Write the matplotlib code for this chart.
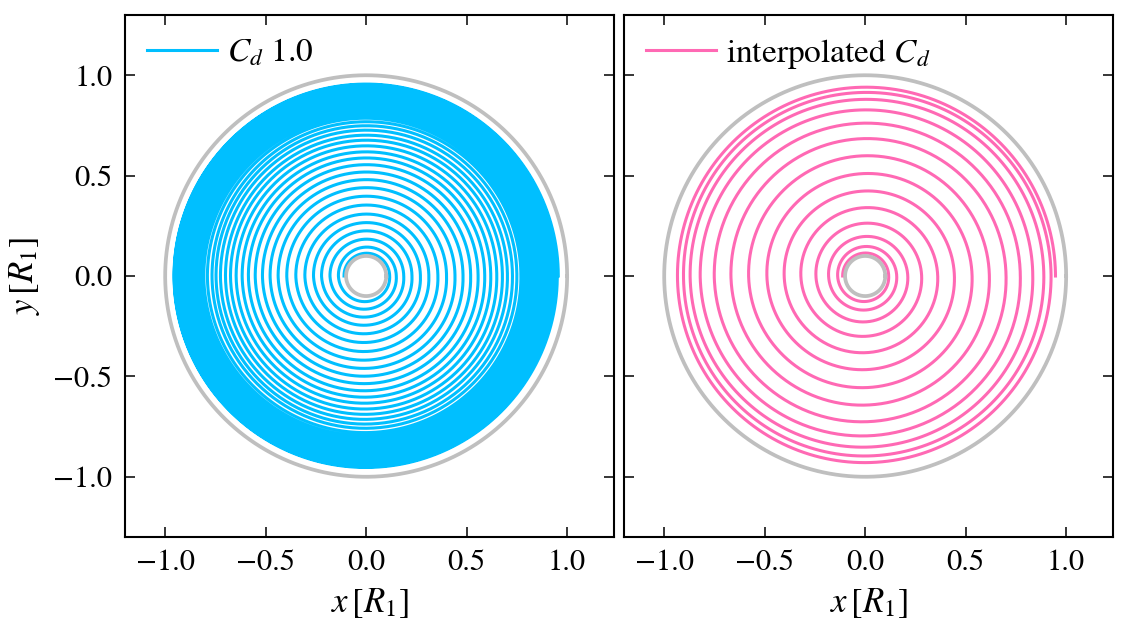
import numpy as np
import matplotlib.pyplot as plt

plt.rcParams['font.family'] = 'STIXGeneral'
plt.rcParams['mathtext.fontset'] = 'stix'

# radius (in R_1) where each spiral cuts the -x and the +x axis, inside -> out
cd1_neg = [0.11, 0.138, 0.18, 0.222, 0.262, 0.305, 0.35, 0.395, 0.438, 0.478,
           0.516, 0.552, 0.586, 0.617, 0.647, 0.675, 0.70, 0.725, 0.747, 0.767,
           0.79, 0.808, 0.818, 0.828, 0.838, 0.848, 0.857, 0.866, 0.875, 0.884,
           0.893, 0.902, 0.910, 0.918, 0.926, 0.934, 0.941, 0.947, 0.952, 0.955,
           0.956]
cd1_pos = [0.117, 0.15, 0.187, 0.228, 0.27, 0.312, 0.357, 0.40, 0.442, 0.482,
           0.52, 0.557, 0.59, 0.62, 0.65, 0.678, 0.703, 0.728, 0.75, 0.77,
           0.782, 0.792, 0.802, 0.812, 0.822, 0.832, 0.842, 0.851, 0.860, 0.869,
           0.878, 0.887, 0.896, 0.905, 0.914, 0.922, 0.930, 0.938, 0.945, 0.951,
           0.956]
interp_neg = [0.112, 0.137, 0.182, 0.245, 0.320, 0.403, 0.489, 0.580, 0.668,
              0.751, 0.821, 0.871, 0.904, 0.934]
interp_pos = [0.117, 0.157, 0.212, 0.281, 0.361, 0.444, 0.532, 0.618, 0.701,
              0.772, 0.834, 0.889, 0.925, 0.947]

inner_radius = 0.1
outer_radius = 1.0


def spiral(r_neg, r_pos):
    # alternate -x / +x crossings, half a turn (clockwise) between each
    radii = []
    for a, b in zip(r_neg, r_pos):
        radii += [a, b]
    knots = np.pi - np.pi * np.arange(len(radii))
    theta = np.linspace(knots[0], knots[-1], 200 * len(radii))
    r = np.interp(-theta, -knots, radii)
    return r * np.cos(theta), r * np.sin(theta)


fig = plt.figure(figsize=(11.29, 6.34), dpi=100)
ax1 = fig.add_axes([0.1107, 0.153, 0.4331, 0.8233])
ax2 = fig.add_axes([0.5527, 0.153, 0.4331, 0.8233])

phi = np.linspace(0, 2 * np.pi, 400)
panels = [(ax1, cd1_neg, cd1_pos, '#00bfff', r'$C_d$ 1.0'),
          (ax2, interp_neg, interp_pos, '#ff69b4', r'interpolated $C_d$')]

for ax, r_neg, r_pos, color, label in panels:
    x, y = spiral(r_neg, r_pos)
    ax.plot(x, y, color=color, lw=2.2, label=label)
    for rad in (inner_radius, outer_radius):
        ax.plot(rad * np.cos(phi), rad * np.sin(phi), color='#bfbfbf', lw=2.7, zorder=3)
    ax.set_xlim(-1.2, 1.233)
    ax.set_ylim(-1.3, 1.3)
    ax.set_xticks([-1.0, -0.5, 0.0, 0.5, 1.0])
    ax.set_yticks([-1.0, -0.5, 0.0, 0.5, 1.0])
    ax.tick_params(direction='in', top=True, right=True, length=7, width=1.1,
                   labelsize=22, pad=9)
    for s in ax.spines.values():
        s.set_linewidth(1.5)
    ax.set_xlabel(r'$x\,[R_1]$', fontsize=25, labelpad=6)
    ax.legend(loc='upper left', frameon=False, fontsize=24, handlelength=2.1,
              borderaxespad=0.25, handletextpad=0.3)

ax1.set_ylabel(r'$y\,[R_1]$', fontsize=25, labelpad=8)
ax2.set_yticklabels([])

fig.savefig('out.png', dpi=100)
